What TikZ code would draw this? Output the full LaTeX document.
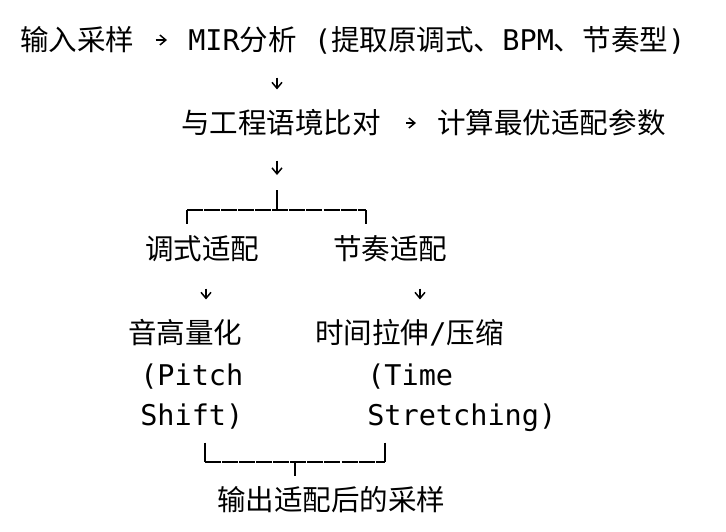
\documentclass[tikz,border=0pt]{standalone}
\usepackage{fontspec}
\setmonofont{DejaVu Sans Mono}
\newfontfamily\zhfont{Noto Sans CJK SC}
\newcommand{\zh}[1]{{\zhfont #1}}
\usetikzlibrary{arrows.meta, positioning}

\begin{document}
\begin{tikzpicture}[
    x=0.75pt, y=-0.75pt,
    txt/.style={anchor=west, inner sep=0pt, text height=18.8pt, text depth=2.6pt, font=\ttfamily\fontsize{21.4pt}{25pt}\selectfont},
    arr/.style={->, line width=1.1pt},
    brk/.style={line width=1.3pt},
    gap/.style={brk, dash pattern=on 12pt off 0.8pt},
    >={Straight Barb[length=4.5pt, width=7.5pt]}
]
\useasboundingbox (0,0) rectangle (726,532);

\node[txt] (src) at (20,40) {\zh{输入采样}};
\node[txt] (mir) at (188,40) {MIR\zh{分析} (\zh{提取原调式、}BPM\zh{、节奏型})};
\node[txt] (cmp) at (181,123) {\zh{与工程语境比对}};
\node[txt] (opt) at (437,123) {\zh{计算最优适配参数}};
\node[txt] (key) at (145,249) {\zh{调式适配}};
\node[txt] (tempo) at (333,249) {\zh{节奏适配}};
\node[txt] (pitch) at (128,333) {\zh{音高量化}};
\node[txt] (stretch) at (315,333) {\zh{时间拉伸}/\zh{压缩}};
\node[txt] (pitchen) at (140,375) {(Pitch};
\node[txt] (pitchen2) at (140,415) {Shift)};
\node[txt] (timeen) at (367,375) {(Time};
\node[txt] (timeen2) at (367,415) {Stretching)};
\node[txt] (out) at (217,500) {\zh{输出适配后的采样}};

% arrow columns and bracket corners
\coordinate (a1) at (277,0);
\coordinate (a3l) at (206,0);
\coordinate (a3r) at (420,0);
\coordinate (fork) at (277,190);
\coordinate (forkl) at (187,210);
\coordinate (forkr) at (366,210);
\coordinate (joinl) at (205,462);
\coordinate (joinr) at (385,462);
\coordinate (join) at (295,462);

\draw[arr, shorten <=15.75pt, shorten >=15.75pt] (src) -- (mir);
\draw[arr, shorten <=18.75pt, shorten >=15.75pt] (cmp) -- (opt);
\draw[arr, shorten <=17.25pt, shorten >=14.25pt] (mir.south -| a1) -- (cmp.north -| a1);
\draw[arr, shorten <=17.25pt, shorten >=11.25pt] (cmp.south -| a1) -- (fork);

% split
\draw[brk] (fork) -- (forkl -| fork);
\draw[gap] (forkl) -- (forkr);
\draw[brk, shorten >=7.5pt] (forkl) -- (key.north -| forkl);
\draw[brk, shorten >=7.5pt] (forkr) -- (tempo.north -| forkr);

\draw[arr, shorten <=18.75pt, shorten >=14.25pt] (key.south -| a3l) -- (pitch.north -| a3l);
\draw[arr, shorten <=18.75pt, shorten >=14.25pt] (tempo.south -| a3r) -- (stretch.north -| a3r);

% merge
\draw[brk, shorten <=9.75pt] (pitchen2.south -| joinl) -- (joinl);
\draw[brk, shorten <=9.75pt] (timeen2.south -| joinr) -- (joinr);
\draw[gap] (joinl) -- (joinr);
\draw[brk, shorten >=6.75pt] (join) -- (out.north -| join);
\end{tikzpicture}
\end{document}
